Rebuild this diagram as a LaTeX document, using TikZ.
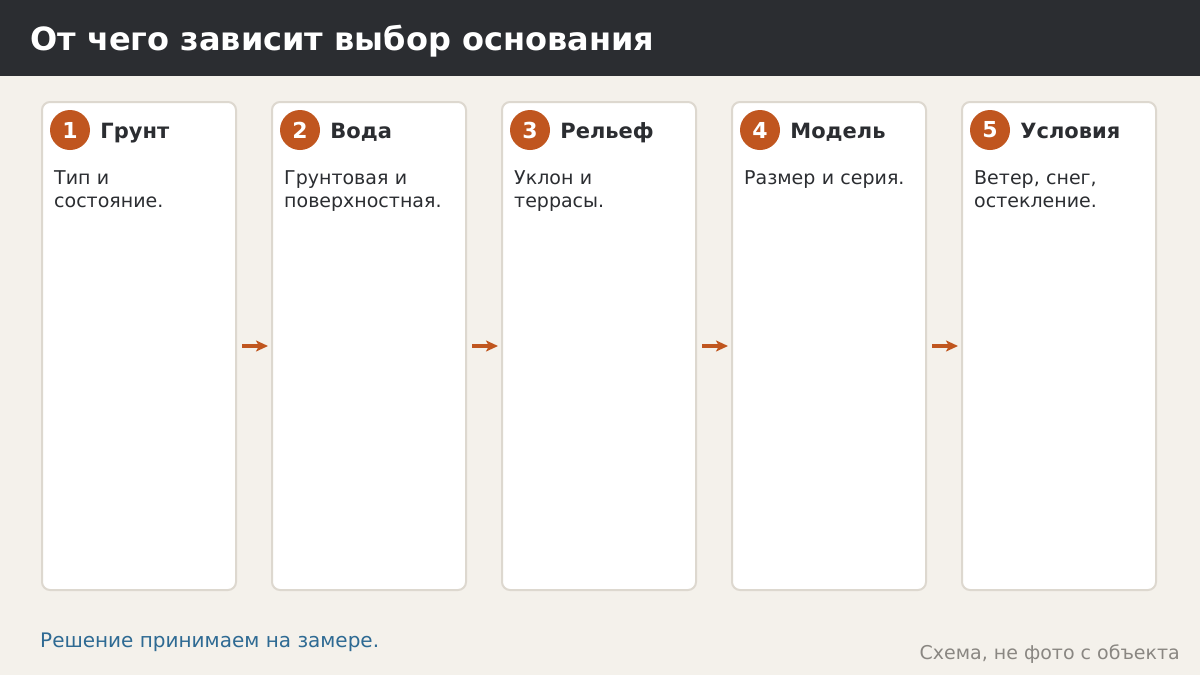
\documentclass[tikz,border=0pt]{standalone}
\usepackage{fontspec}
\setmainfont{DejaVu Sans}
\usetikzlibrary{arrows.meta,positioning}
\definecolor{bgpage}{HTML}{F4F1EB}
\definecolor{headbar}{HTML}{2B2D31}
\definecolor{cardline}{HTML}{DDD8CF}
\definecolor{accent}{HTML}{C0561F}
\definecolor{textdark}{HTML}{2B2D31}
\definecolor{notecol}{HTML}{2E6A93}
\definecolor{srccol}{HTML}{8A8782}
\tikzset{
  card/.style   = {draw=cardline, line width=2pt, fill=white, rounded corners=8pt,
                   minimum width=194pt, minimum height=488pt, inner sep=0pt, anchor=north west},
  badge/.style  = {circle, fill=accent, minimum size=40pt, inner sep=0pt,
                   text=white, font=\fontsize{22}{26}\selectfont\bfseries},
  heading/.style = {anchor=base west, inner sep=0pt, text=textdark,
                   font=\fontsize{21}{25}\selectfont\bfseries},
  body/.style   = {anchor=base west, inner sep=0pt, text=textdark, text width=175pt,
                   align=left, font=\fontsize{19}{23}\selectfont},
  flow/.style   = {-{Stealth[length=12pt,width=11pt,inset=3pt]}, draw=accent, fill=accent,
                   line width=3.5pt, shorten <=5pt, shorten >=3pt}
}
\begin{document}
\begin{tikzpicture}[x=1pt,y=-1pt]

% page and header band
\fill[bgpage] (0,0) rectangle (1200,675);
\fill[headbar] (0,0) rectangle (1200,76);
\useasboundingbox (0,0) rectangle (1200,675);
\node[anchor=base west, inner sep=0pt, text=white,
      font=\fontsize{32}{38}\selectfont\bfseries] (title) at (30,50)
  {От чего зависит выбор основания};

% the five cards
\foreach \i/\head/\txt in {1/Грунт/{Тип и\\состояние.},
                           2/Вода/{Грунтовая и\\поверхностная.},
                           3/Рельеф/{Уклон и\\террасы.},
                           4/Модель/{Размер и серия.},
                           5/Условия/{Ветер, снег,\\остекление.}}{
  \node[card] (c\i) at ({41+230*(\i-1)},101) {};
  \node[badge] (n\i) at ({70+230*(\i-1)},130) {\i};
  \node[heading] (h\i) at ([xshift=10pt,yshift=-8pt]n\i.east) {\head};
  \node[body] (t\i) at ({54+230*(\i-1)},184) {\txt};
}

% arrows between cards
\foreach \a/\b in {1/2,2/3,3/4,4/5}
  \draw[flow] (c\a.east) -- (c\b.west);

% footer
\node[anchor=base west, inner sep=0pt, text=notecol,
      font=\fontsize{20}{24}\selectfont] (note) at (40,647) {Решение принимаем на замере.};
\node[anchor=base east, inner sep=0pt, text=srccol,
      font=\fontsize{19}{23}\selectfont] (src) at (1180,659) {Схема, не фото с объекта};

\end{tikzpicture}
\end{document}
